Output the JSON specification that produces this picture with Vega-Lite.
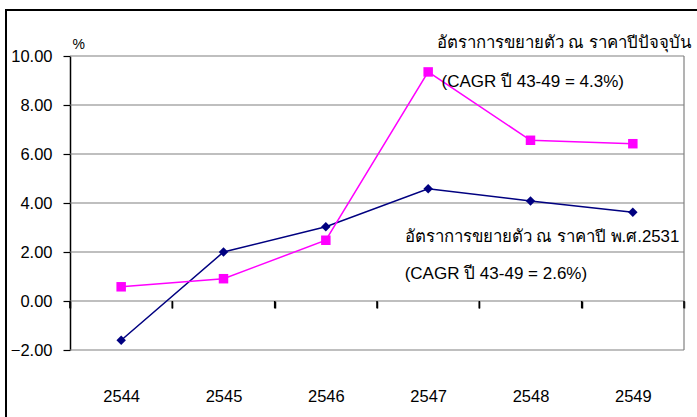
{
  "$schema": "https://vega.github.io/schema/vega-lite/v6.json",
  "autosize": "none",
  "padding": {"left": 6, "top": 10, "right": 0, "bottom": 0},
  "width": 693,
  "height": 409,
  "background": "white",
  "config": {
    "view": {"stroke": "black", "strokeWidth": 2},
    "font": "Liberation Sans",
    "text": {"font": "Liberation Sans", "fontSize": 17, "color": "black"}
  },
  "datasets": {
    "growth": [
      {"year": 2544, "series": "ราคาปี พ.ศ.2531", "value": -1.6},
      {"year": 2545, "series": "ราคาปี พ.ศ.2531", "value": 2.0},
      {"year": 2546, "series": "ราคาปี พ.ศ.2531", "value": 3.03},
      {"year": 2547, "series": "ราคาปี พ.ศ.2531", "value": 4.58},
      {"year": 2548, "series": "ราคาปี พ.ศ.2531", "value": 4.08},
      {"year": 2549, "series": "ราคาปี พ.ศ.2531", "value": 3.62},
      {"year": 2544, "series": "ราคาปีปัจจุบัน", "value": 0.58},
      {"year": 2545, "series": "ราคาปีปัจจุบัน", "value": 0.91},
      {"year": 2546, "series": "ราคาปีปัจจุบัน", "value": 2.48},
      {"year": 2547, "series": "ราคาปีปัจจุบัน", "value": 9.35},
      {"year": 2548, "series": "ราคาปีปัจจุบัน", "value": 6.56},
      {"year": 2549, "series": "ราคาปีปัจจุบัน", "value": 6.42}
    ],
    "grid": [{"g": -2}, {"g": 0}, {"g": 2}, {"g": 4}, {"g": 6}, {"g": 8}, {"g": 10}],
    "bounds": [{"b": 2543.5}, {"b": 2544.5}, {"b": 2545.5}, {"b": 2546.5}, {"b": 2547.5}, {"b": 2548.5}, {"b": 2549.5}]
  },
  "layer": [
    {
      "data": {"name": "grid"},
      "mark": {"type": "rule", "color": "#808080", "strokeWidth": 1.2},
      "encoding": {
        "y": {"field": "g", "type": "quantitative", "scale": {"domain": [-2, 10], "range": [340, 46], "nice": false, "zero": false}},
        "x": {"datum": 2543.5, "type": "quantitative", "scale": {"type": "linear", "domain": [2543.5, 2549.5], "range": [64, 678], "nice": false, "zero": false}},
        "x2": {"datum": 2549.5}
      }
    },
    {
      "data": {"values": [{}]},
      "mark": {"type": "rule", "color": "#808080", "strokeWidth": 1.2},
      "encoding": {
        "x": {"datum": 2549.5, "type": "quantitative"},
        "y": {"datum": -2, "type": "quantitative"},
        "y2": {"datum": 10}
      }
    },
    {
      "data": {"name": "bounds"},
      "mark": {"type": "rule", "color": "black", "strokeWidth": 1.5},
      "encoding": {
        "x": {"field": "b", "type": "quantitative"},
        "y": {"datum": 0, "type": "quantitative"},
        "y2": {"datum": -0.3}
      }
    },
    {
      "data": {"name": "growth"},
      "mark": {"type": "line", "strokeWidth": 1.5},
      "encoding": {
        "x": {
          "field": "year", "type": "quantitative",
          "axis": {
            "orient": "bottom", "offset": -118,
            "values": [2543.5, 2544.5, 2545.5, 2546.5, 2547.5, 2548.5, 2549.5],
            "labelExpr": "datum.value < 2549 ? format(datum.value + 0.5, 'd') : ''",
            "labelOffset": 51.17, "labelPadding": 93, "labelBaseline": "alphabetic", "labelAlign": "center",
            "labelFlush": false, "labelOverlap": false, "labelBound": false,
            "labelFont": "Liberation Sans", "labelFontSize": 16.5, "labelColor": "black",
            "domain": false, "grid": false, "ticks": true, "tickColor": "black", "tickSize": 7, "tickWidth": 1.5, "tickOpacity": 1,
            "title": null
          }
        },
        "y": {
          "field": "value", "type": "quantitative",
          "axis": {
            "orient": "left", "offset": -64,
            "values": [-2, 0, 2, 4, 6, 8, 10], "format": ".2f",
            "grid": false, "domainColor": "black", "domainWidth": 1.5,
            "tickColor": "black", "tickSize": 7, "tickWidth": 1.2,
            "labelPadding": 11, "labelFont": "Liberation Sans", "labelFontSize": 16.5, "labelColor": "black",
            "title": "%", "titleAngle": 0, "titleAlign": "left", "titleBaseline": "alphabetic",
            "titleX": 2, "titleY": 38, "titleFont": "Liberation Sans", "titleFontSize": 14,
            "titleFontWeight": "normal", "titleColor": "black"
          }
        },
        "color": {
          "field": "series", "type": "nominal",
          "scale": {"domain": ["ราคาปี พ.ศ.2531", "ราคาปีปัจจุบัน"], "range": ["#000080", "#FF00FF"]},
          "legend": null
        }
      }
    },
    {
      "data": {"name": "growth"},
      "mark": {"type": "point", "filled": true, "opacity": 1, "size": 90},
      "encoding": {
        "x": {"field": "year", "type": "quantitative"},
        "y": {"field": "value", "type": "quantitative"},
        "color": {"field": "series", "type": "nominal", "legend": null},
        "shape": {
          "field": "series", "type": "nominal",
          "scale": {"domain": ["ราคาปี พ.ศ.2531", "ราคาปีปัจจุบัน"], "range": ["diamond", "square"]},
          "legend": null
        }
      }
    },
    {
      "data": {"values": [{}]},
      "mark": {"type": "text", "align": "right", "baseline": "alphabetic", "fontSize": 16.8, "text": "อัตราการขยายตัว ณ ราคาปีปัจจุบัน"},
      "encoding": {
        "x": {"datum": 2549.57, "type": "quantitative"},
        "y": {"datum": 10.31, "type": "quantitative"}
      }
    },
    {
      "data": {"values": [{}]},
      "mark": {"type": "text", "align": "left", "baseline": "alphabetic", "text": "(CAGR ปี 43-49 = 4.3%)"},
      "encoding": {
        "x": {"datum": 2547.13, "type": "quantitative"},
        "y": {"datum": 8.72, "type": "quantitative"}
      }
    },
    {
      "data": {"values": [{}]},
      "mark": {"type": "text", "align": "left", "baseline": "alphabetic", "fontSize": 16.8, "text": "อัตราการขยายตัว ณ ราคาปี พ.ศ.2531"},
      "encoding": {
        "x": {"datum": 2546.77, "type": "quantitative"},
        "y": {"datum": 2.42, "type": "quantitative"}
      }
    },
    {
      "data": {"values": [{}]},
      "mark": {"type": "text", "align": "left", "baseline": "alphabetic", "text": "(CAGR ปี 43-49 = 2.6%)"},
      "encoding": {
        "x": {"datum": 2546.77, "type": "quantitative"},
        "y": {"datum": 0.886, "type": "quantitative"}
      }
    }
  ]
}
